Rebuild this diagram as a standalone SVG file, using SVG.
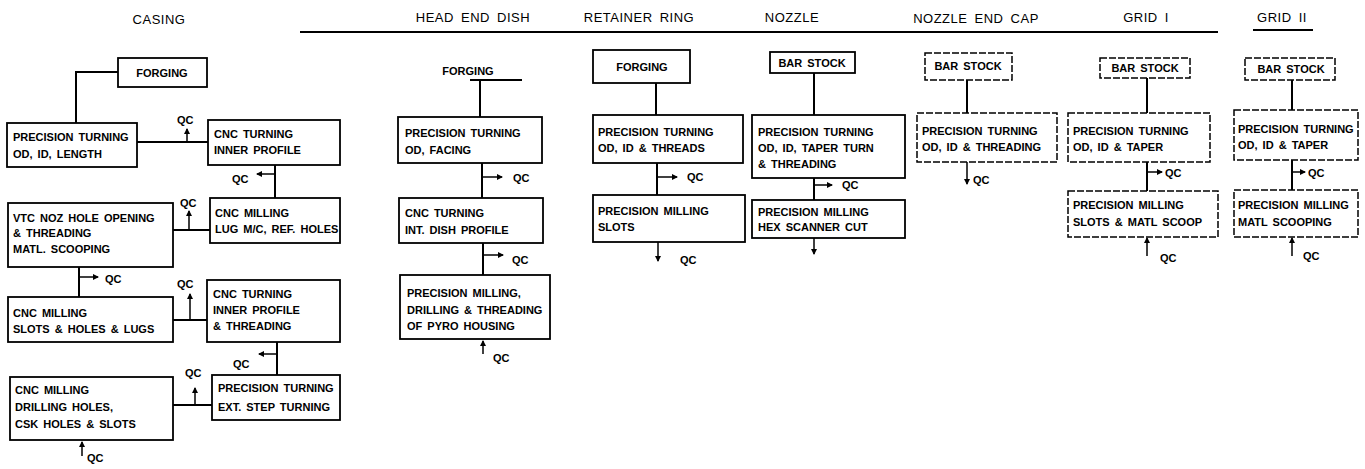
<svg xmlns="http://www.w3.org/2000/svg" width="1365" height="469" viewBox="0 0 1365 469">
<style>
.box{fill:#fff;stroke:#000;stroke-width:1.8}
.dbox{fill:#fff;stroke:#000;stroke-width:1.5;stroke-dasharray:7 2}
.ln{stroke:#000;stroke-width:2;fill:none}
.qa{stroke:#000;stroke-width:1.5;fill:none;marker-end:url(#ah)}
.t{font-family:"Liberation Sans",Arial,sans-serif;font-weight:bold;font-size:11px;word-spacing:2px;fill:#000}
.q{font-family:"Liberation Sans",Arial,sans-serif;font-weight:bold;font-size:11px;fill:#000}
.h{font-family:"Liberation Sans",Arial,sans-serif;font-size:13px;letter-spacing:0.5px;word-spacing:3px;fill:#000;text-anchor:middle}
.c{text-anchor:middle}
</style>
<defs>
<marker id="ah" markerUnits="userSpaceOnUse" markerWidth="6" markerHeight="6" refX="5" refY="3" orient="auto">
<path d="M0,0 L6,3 L0,6 z" fill="#000"/>
</marker>
</defs>
<rect width="1365" height="469" fill="#fff"/>

<g id="titles">
<text class="h" x="159" y="24">CASING</text>
<text class="h" x="473" y="22">HEAD END DISH</text>
<text class="h" x="639" y="22">RETAINER RING</text>
<text class="h" x="792" y="22">NOZZLE</text>
<text class="h" x="976" y="23">NOZZLE END CAP</text>
<text class="h" x="1146" y="22">GRID I</text>
<text class="h" x="1282" y="22">GRID II</text>
<path class="ln" d="M300,32 H1218 M1253,30 H1313"/>
</g>

<g id="connectors">
<!-- casing -->
<path class="ln" d="M118,72 H76 V123"/>
<path class="ln" d="M137,142 H208"/>
<path class="qa" d="M187,142 V129"/>
<path class="ln" d="M275,165 V198"/>
<path class="qa" d="M275,174 H257"/>
<path class="ln" d="M173,230 H210"/>
<path class="qa" d="M189,230 V211"/>
<path class="ln" d="M79,267 V297"/>
<path class="qa" d="M79,277 H98"/>
<path class="ln" d="M173,320 H207"/>
<path class="qa" d="M190,320 V294"/>
<path class="ln" d="M277,342 V375"/>
<path class="qa" d="M277,354 H259"/>
<path class="ln" d="M173,405 H212"/>
<path class="qa" d="M195,405 V388"/>
<path class="qa" d="M82,456 V442"/>
<!-- head end dish -->
<path class="ln" d="M470,80 H522 M480,80 V117"/>
<path class="ln" d="M482,163 V198"/>
<path class="qa" d="M482,177 H502"/>
<path class="ln" d="M483,243 V275"/>
<path class="qa" d="M483,255 H503"/>
<path class="qa" d="M483,354 V341"/>
<!-- retainer ring -->
<path class="ln" d="M656,83 V115"/>
<path class="ln" d="M657,163 V195"/>
<path class="qa" d="M657,177 H677"/>
<path class="qa" d="M658,242 V261"/>
<!-- nozzle -->
<path class="ln" d="M814,73 V115"/>
<path class="ln" d="M814,178 V200"/>
<path class="qa" d="M814,185 H832"/>
<path class="qa" d="M814,238 V254"/>
<!-- nozzle end cap -->
<path class="ln" d="M967,80 V113"/>
<path class="qa" d="M967,162 V184"/>
<!-- grid I -->
<path class="ln" d="M1147,78 V113"/>
<path class="ln" d="M1147,162 V191"/>
<path class="qa" d="M1147,172 H1162"/>
<path class="qa" d="M1147,256 V238"/>
<!-- grid II -->
<path class="ln" d="M1292,80 V110"/>
<path class="ln" d="M1292,160 V190"/>
<path class="qa" d="M1292,172 H1305"/>
<path class="qa" d="M1292,256 V238"/>
</g>

<g id="qc-labels">
<text class="q" x="177" y="124">QC</text>
<text class="q" x="232" y="183">QC</text>
<text class="q" x="180" y="207">QC</text>
<text class="q" x="105" y="283">QC</text>
<text class="q" x="177" y="288">QC</text>
<text class="q" x="233" y="368">QC</text>
<text class="q" x="185" y="377">QC</text>
<text class="q" x="87" y="462">QC</text>
<text class="q" x="513" y="182">QC</text>
<text class="q" x="512" y="264">QC</text>
<text class="q" x="493" y="362">QC</text>
<text class="q" x="687" y="181">QC</text>
<text class="q" x="680" y="264">QC</text>
<text class="q" x="842" y="189">QC</text>
<text class="q" x="973" y="184">QC</text>
<text class="q" x="1165" y="177">QC</text>
<text class="q" x="1160" y="262">QC</text>
<text class="q" x="1308" y="177">QC</text>
<text class="q" x="1303" y="260">QC</text>
</g>

<!-- CASING -->
<g id="casing-forging">
<rect class="box" x="118" y="58" width="89" height="29"/>
<text class="t c" x="162" y="77">FORGING</text>
</g>
<g id="casing-pt">
<rect class="box" x="7" y="123" width="130" height="44"/>
<text class="t" x="13" y="141">PRECISION TURNING</text>
<text class="t" x="13" y="158">OD, ID, LENGTH</text>
</g>
<g id="casing-cnc-turning-1">
<rect class="box" x="208" y="120" width="132" height="45"/>
<text class="t" x="214" y="138">CNC TURNING</text>
<text class="t" x="214" y="154">INNER PROFILE</text>
</g>
<g id="casing-cnc-milling-lug">
<rect class="box" x="210" y="198" width="130" height="45"/>
<text class="t" x="215" y="217">CNC MILLING</text>
<text class="t" x="215" y="233">LUG M/C, REF. HOLES</text>
</g>
<g id="casing-vtc">
<rect class="box" x="8" y="203" width="165" height="64"/>
<text class="t" x="13" y="222">VTC NOZ HOLE  OPENING</text>
<text class="t" x="13" y="237">&amp; THREADING</text>
<text class="t" x="13" y="253">MATL. SCOOPING</text>
</g>
<g id="casing-cnc-milling-slots">
<rect class="box" x="8" y="297" width="165" height="45"/>
<text class="t" x="13" y="317">CNC MILLING</text>
<text class="t" x="13" y="333">SLOTS &amp; HOLES &amp; LUGS</text>
</g>
<g id="casing-cnc-turning-2">
<rect class="box" x="207" y="280" width="133" height="62"/>
<text class="t" x="213" y="298">CNC TURNING</text>
<text class="t" x="213" y="314">INNER PROFILE</text>
<text class="t" x="213" y="330">&amp; THREADING</text>
</g>
<g id="casing-pt-ext">
<rect class="box" x="212" y="375" width="128" height="45"/>
<text class="t" x="218" y="392">PRECISION TURNING</text>
<text class="t" x="218" y="411">EXT. STEP TURNING</text>
</g>
<g id="casing-cnc-milling-drill">
<rect class="box" x="10" y="377" width="163" height="63"/>
<text class="t" x="15" y="394">CNC MILLING</text>
<text class="t" x="15" y="411">DRILLING HOLES,</text>
<text class="t" x="15" y="428">CSK HOLES &amp; SLOTS</text>
</g>

<!-- HEAD END DISH -->
<g id="hed-forging">
<text class="t c" x="468" y="75">FORGING</text>
</g>
<g id="hed-pt">
<rect class="box" x="398" y="117" width="144" height="46"/>
<text class="t" x="405" y="137">PRECISION TURNING</text>
<text class="t" x="405" y="154">OD, FACING</text>
</g>
<g id="hed-cnc">
<rect class="box" x="399" y="198" width="144" height="45"/>
<text class="t" x="405" y="217">CNC TURNING</text>
<text class="t" x="405" y="234">INT. DISH PROFILE</text>
</g>
<g id="hed-pm">
<rect class="box" x="400" y="275" width="150" height="64"/>
<text class="t" x="407" y="297">PRECISION MILLING,</text>
<text class="t" x="407" y="314">DRILLING &amp; THREADING</text>
<text class="t" x="407" y="330">OF PYRO HOUSING</text>
</g>

<!-- RETAINER RING -->
<g id="rr-forging">
<rect class="box" x="593" y="50" width="97" height="33"/>
<text class="t c" x="642" y="71">FORGING</text>
</g>
<g id="rr-pt">
<rect class="box" x="593" y="115" width="150" height="48"/>
<text class="t" x="598" y="136">PRECISION TURNING</text>
<text class="t" x="598" y="152">OD, ID &amp; THREADS</text>
</g>
<g id="rr-pm">
<rect class="box" x="593" y="195" width="152" height="47"/>
<text class="t" x="598" y="215">PRECISION MILLING</text>
<text class="t" x="598" y="231">SLOTS</text>
</g>

<!-- NOZZLE -->
<g id="nz-bar">
<rect class="box" x="770" y="52" width="85" height="21"/>
<text class="t c" x="812" y="67">BAR STOCK</text>
</g>
<g id="nz-pt">
<rect class="box" x="752" y="115" width="153" height="63"/>
<text class="t" x="758" y="136">PRECISION TURNING</text>
<text class="t" x="758" y="152">OD, ID, TAPER TURN</text>
<text class="t" x="758" y="168">&amp; THREADING</text>
</g>
<g id="nz-pm">
<rect class="box" x="752" y="200" width="153" height="38"/>
<text class="t" x="758" y="216">PRECISION MILLING</text>
<text class="t" x="758" y="231">HEX SCANNER CUT</text>
</g>

<!-- NOZZLE END CAP -->
<g id="nec-bar">
<rect class="dbox" x="925" y="53" width="87" height="27"/>
<text class="t c" x="968" y="70">BAR STOCK</text>
</g>
<g id="nec-pt">
<rect class="dbox" x="917" y="113" width="140" height="49"/>
<text class="t" x="922" y="135">PRECISION TURNING</text>
<text class="t" x="922" y="151">OD, ID &amp; THREADING</text>
</g>

<!-- GRID I -->
<g id="g1-bar">
<rect class="dbox" x="1100" y="58" width="90" height="20"/>
<text class="t c" x="1145" y="72">BAR STOCK</text>
</g>
<g id="g1-pt">
<rect class="dbox" x="1068" y="113" width="142" height="49"/>
<text class="t" x="1073" y="135">PRECISION TURNING</text>
<text class="t" x="1073" y="151">OD, ID &amp; TAPER</text>
</g>
<g id="g1-pm">
<rect class="dbox" x="1068" y="191" width="150" height="46"/>
<text class="t" x="1073" y="209">PRECISION MILLING</text>
<text class="t" x="1073" y="226">SLOTS &amp; MATL SCOOP</text>
</g>

<!-- GRID II -->
<g id="g2-bar">
<rect class="dbox" x="1245" y="58" width="90" height="22"/>
<text class="t c" x="1291" y="73">BAR STOCK</text>
</g>
<g id="g2-pt">
<rect class="dbox" x="1234" y="110" width="124" height="50"/>
<text class="t" x="1238" y="133">PRECISION TURNING</text>
<text class="t" x="1238" y="149">OD, ID &amp; TAPER</text>
</g>
<g id="g2-pm">
<rect class="dbox" x="1234" y="190" width="124" height="47"/>
<text class="t" x="1238" y="209">PRECISION MILLING</text>
<text class="t" x="1238" y="226">MATL SCOOPING</text>
</g>
</svg>
